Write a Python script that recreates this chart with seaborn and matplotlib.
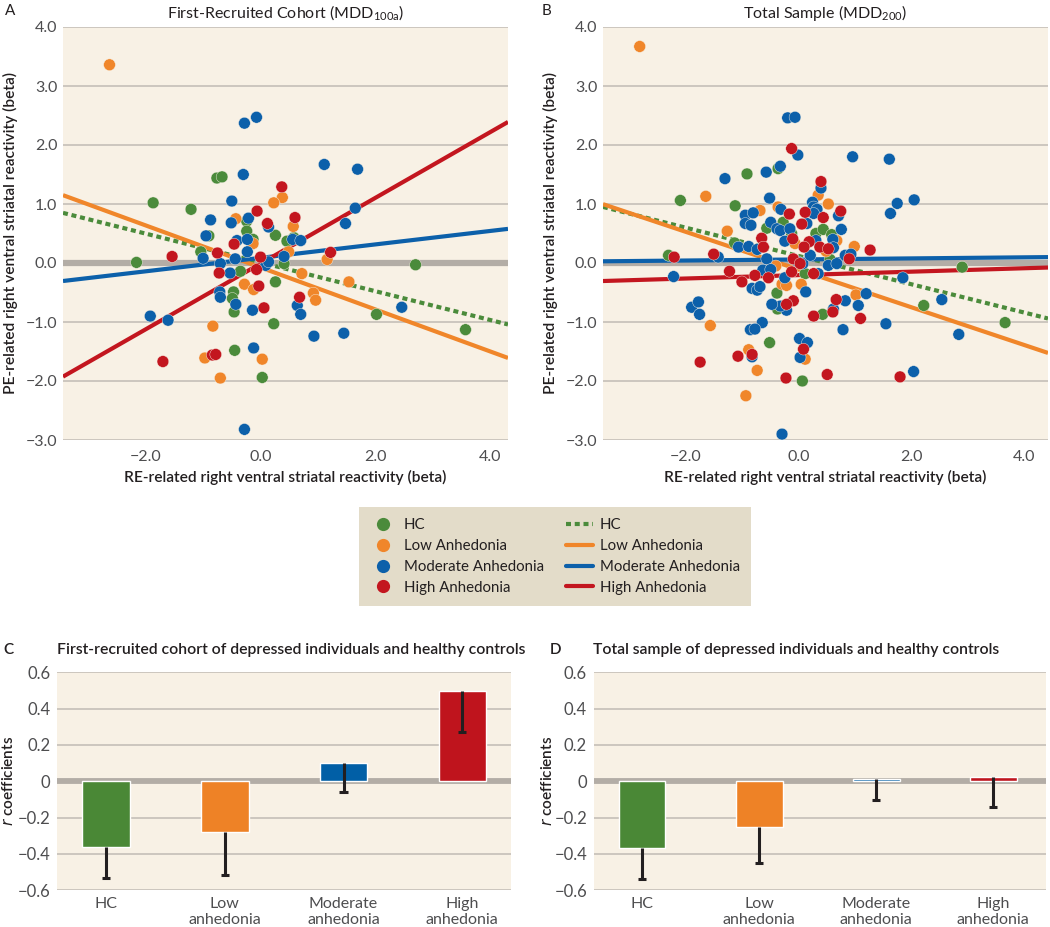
import numpy as np
import pandas as pd
import matplotlib
matplotlib.use("Agg")
import matplotlib.pyplot as plt
import seaborn as sns
from matplotlib.lines import Line2D

# ---------------- data ----------------
groups = ["HC", "Low Anhedonia", "Moderate Anhedonia", "High Anhedonia"]
colors = ["#4b8b3b", "#f0862a", "#0c60aa", "#c3161f"]
bar_colors = ["#4a8836", "#ee8226", "#015fa6", "#bf141d"]

# Panel A (first-recruited cohort) points: (RE beta, PE beta)
a_hc = [(-2.16, 0.01), (-1.87, 1.02), (-1.21, 0.91), (-0.76, 1.44), (-0.67, 1.46), (-0.24, 0.71),
        (-0.24, 0.54), (0.26, 0.47), (-0.90, 0.46), (-0.13, 0.40), (0.46, 0.37), (0.58, 0.43),
        (-1.04, 0.19), (0.41, -0.01), (0.26, -0.32), (-0.35, -0.14), (-0.47, -0.49), (-0.49, -0.60),
        (-0.46, -0.83), (0.23, -1.03), (2.02, -0.87), (2.70, -0.03), (3.57, -1.13), (-0.45, -1.48),
        (0.03, -1.94)]
a_low = [(-2.63, 3.36), (0.38, 1.11), (0.23, 1.02), (-0.43, 0.75), (0.57, 0.62), (-0.13, 0.33),
         (0.49, 0.19), (-0.28, -0.36), (-0.12, -0.45), (0.72, -0.18), (1.16, 0.06), (0.92, -0.51),
         (0.96, -0.63), (1.54, -0.32), (-0.83, -1.07), (-0.97, -1.61), (0.03, -1.63), (-0.70, -1.95)]
a_mod = [(-0.28, 2.37), (-0.07, 2.47), (-0.30, 1.50), (1.11, 1.67), (1.69, 1.59), (-0.50, 1.05),
         (-0.87, 0.73), (-0.51, 0.68), (-0.21, 0.76), (0.14, 0.61), (1.48, 0.67), (1.65, 0.93),
         (-0.95, 0.46), (-0.41, 0.38), (-0.23, 0.40), (0.56, 0.40), (0.70, 0.38), (-1.92, -0.90),
         (-1.61, -0.97), (-1.00, 0.08), (-0.70, -0.01), (-0.53, -0.17), (-0.44, 0.07), (-0.23, 0.19),
         (0.09, -0.04), (0.14, 0.02), (0.41, 0.11), (-0.71, -0.49), (-0.70, -0.58), (-0.43, -0.70),
         (-0.14, -0.80), (0.64, -0.72), (0.70, -0.87), (0.93, -1.24), (1.45, -1.19), (2.46, -0.75),
         (-0.12, -1.44), (-0.28, -2.82)]
a_high = [(0.37, 1.29), (-0.06, 0.88), (0.12, 0.67), (0.60, 0.77), (-0.46, 0.32), (-1.54, 0.11),
          (-0.75, 0.17), (-0.72, -0.17), (0.00, 0.10), (-0.07, -0.11), (-0.03, -0.39), (0.06, -0.76),
          (1.22, 0.18), (0.68, -0.58), (-1.70, -1.67), (-0.84, -1.56), (-0.78, -1.55)]

# Panel B (total sample) points
b_hc = [(-0.91, 1.51), (-0.36, 1.60), (-2.09, 1.06), (-1.12, 0.97), (-0.56, 0.59), (-0.27, 0.69),
        (0.31, 0.50), (0.44, 0.57), (0.59, 0.48), (-1.13, 0.34), (-0.12, 0.50), (-2.30, 0.13),
        (0.12, -0.18), (0.56, 0.06), (2.90, -0.07), (2.22, -0.72), (3.66, -1.01), (-0.38, -0.51),
        (0.43, -0.87), (-0.37, -0.78), (-0.51, -1.35), (0.07, -2.00)]
b_low = [(-2.81, 3.67), (-1.64, 1.13), (0.35, 1.15), (0.53, 1.00), (-0.68, 0.89), (-0.36, 0.95),
         (-1.26, 0.54), (-0.06, 0.33), (0.68, 0.38), (0.99, 0.28), (0.49, 0.20), (-0.40, -0.05),
         (-0.29, -0.36), (-0.21, -0.38), (0.05, -0.36), (1.02, -0.54), (-1.56, -1.06), (-0.88, -1.47),
         (-0.73, -1.82), (-0.93, -2.25), (0.12, -1.63)]
b_mod = [(-0.19, 2.46), (-0.06, 2.47), (-0.01, 1.83), (0.96, 1.80), (1.61, 1.76), (-1.30, 1.43),
         (-0.57, 1.54), (-0.32, 1.64), (-0.51, 1.10), (0.40, 1.27), (0.25, 1.03), (2.05, 1.07),
         (1.75, 1.01), (1.63, 0.84), (-0.94, 0.81), (-0.80, 0.85), (-0.94, 0.67), (-0.84, 0.64),
         (-0.31, 0.91), (0.27, 0.95), (0.33, 0.91), (0.27, 0.84), (0.71, 0.80), (0.76, 0.57),
         (-0.49, 0.69), (-0.38, 0.58), (-0.32, 0.55), (-0.15, 0.58), (0.15, 0.67), (-0.24, 0.37),
         (0.31, 0.38), (0.61, 0.40), (0.62, 0.26), (-1.06, 0.27), (-0.88, 0.28), (-2.21, -0.23),
         (-1.42, 0.10), (-0.73, 0.23), (-0.56, 0.07), (-0.63, -0.12), (-0.49, -0.11), (-0.82, -0.43),
         (-0.73, -0.46), (-0.68, -0.40), (-0.24, -0.25), (-0.01, 0.02), (0.08, -0.01), (0.35, -0.18),
         (0.13, -0.49), (0.21, 0.13), (0.53, -0.04), (0.68, -0.01), (0.83, 0.13), (0.93, 0.15),
         (1.85, -0.25), (2.54, -0.62), (2.84, -1.21), (2.04, -1.84), (1.55, -1.03), (1.06, -0.72),
         (1.20, -0.52), (0.83, -0.64), (0.62, -0.78), (0.79, -1.13), (-0.21, -0.80), (-0.32, -0.73),
         (-0.47, -0.70), (-0.64, -1.01), (-0.85, -1.13), (-0.77, -1.12), (-1.89, -0.75), (-1.77, -0.66),
         (-1.75, -0.87), (-0.82, -1.59), (0.02, -1.28), (0.16, -1.35), (0.03, -1.60), (-0.29, -2.90)]
b_high = [(-0.12, 1.94), (0.40, 1.38), (-0.16, 0.83), (0.12, 0.86), (0.44, 0.77), (0.75, 0.88),
          (0.06, 0.66), (-0.65, 0.42), (-0.10, 0.41), (0.19, 0.36), (1.27, 0.22), (0.10, 0.27),
          (0.38, 0.27), (-0.62, 0.27), (-2.20, 0.10), (-1.50, 0.15), (-1.22, -0.14), (-1.00, -0.32),
          (-0.77, -0.21), (-0.53, -0.25), (-0.09, 0.07), (0.03, -0.01), (-0.12, -0.15), (0.27, -0.18),
          (0.53, 0.24), (0.90, 0.07), (1.80, -1.93), (1.10, -0.94), (0.67, -0.62), (0.61, -0.83),
          (0.27, -0.90), (0.51, -1.89), (-0.09, -0.64), (-0.21, -0.70), (-1.74, -1.68), (-1.07, -1.58),
          (-0.82, -1.55), (0.09, -1.46), (-0.22, -1.95)]

# Fitted regression lines (slope, intercept) per group
a_slopes = [-0.244, -0.356, 0.114, 0.557]
a_intercepts = [0.01, -0.075, 0.087, -0.01]
b_slopes = [-0.240, -0.320, 0.009, 0.029]
b_intercepts = [0.12, -0.11, 0.06, -0.205]

# Bar panels: r coefficients and lower CI extent
bar_labels = ["HC", "Low\nanhedonia", "Moderate\nanhedonia", "High\nanhedonia"]
c_values = [-0.36, -0.28, 0.103, 0.495]
c_lower_err = [0.175, 0.237, 0.162, 0.225]
d_values = [-0.367, -0.25, 0.01, 0.024]
d_lower_err = [0.173, 0.20, 0.115, 0.164]

scatter_yticks = [-3, -2, -1, 0, 1, 2, 3, 4]
scatter_xticks = [-2, 0, 2, 4]
bar_yticks = [-0.6, -0.4, -0.2, 0, 0.2, 0.4, 0.6]

# ---------------- style ----------------
sns.set_style("white")
plt.rcParams["font.family"] = ["Lato", "DejaVu Sans"]
BG = "#f8f1e5"
GRID = "#c9c3bb"
ZERO = "#b3ada6"
TICKC = "#4d4d4f"
TEXTC = "#231f20"

fig = plt.figure(figsize=(10.5, 9.27), dpi=100)


def make_df(sets):
    rows = []
    for g, pts in zip(groups, sets):
        for x, y in pts:
            rows.append({"re": x, "pe": y, "group": g})
    return pd.DataFrame(rows)


def scatter_panel(rect, sets, slopes, intercepts, xlim, ylab_x):
    ax = fig.add_axes(rect)
    ax.set_facecolor(BG)
    df = make_df(sets)
    ax.axhline(0, color=ZERO, lw=4.5, zorder=1)
    for i, g in enumerate(groups):
        ls = (0, (1.2, 0.9)) if g == "HC" else "-"
        ax.axline((0, intercepts[i]), slope=slopes[i], color=colors[i], lw=3.0,
                  ls=ls, zorder=2, solid_capstyle="butt")
    sns.scatterplot(data=df, x="re", y="pe", hue="group", hue_order=groups,
                    palette=colors, s=72, edgecolor=BG, linewidth=0.3,
                    legend=False, ax=ax, zorder=3)
    ax.set_xlim(*xlim)
    ax.set_ylim(-3, 4)
    ax.set_yticks(scatter_yticks)
    ax.set_yticklabels([f"{v:.1f}".replace("-", "\u2212") for v in scatter_yticks])
    ax.set_xticks(scatter_xticks)
    ax.set_xticklabels([f"{v:.1f}".replace("-", "\u2212") for v in scatter_xticks])
    ax.grid(axis="y", color=GRID, lw=1.3, zorder=0)
    ax.set_axisbelow(True)
    for s in ax.spines.values():
        s.set_visible(False)
    ax.tick_params(length=0, pad=4, labelsize=11.5, labelcolor=TICKC)
    ax.tick_params(axis="x", pad=7)
    ax.set_xlabel("RE-related right ventral striatal reactivity (beta)", fontsize=11.2,
                  color=TEXTC, fontweight="semibold")
    ax.set_ylabel("PE-related right ventral striatal reactivity (beta)", fontsize=11.2,
                  color=TEXTC, fontweight="semibold")
    ax.xaxis.set_label_coords(0.5, -0.073)
    ax.yaxis.set_label_coords(ylab_x, 0.5)
    return ax


def bar_panel(rect, values, lower, xlim, ylab_x):
    ax = fig.add_axes(rect)
    ax.set_facecolor(BG)
    ax.axhline(0, color=ZERO, lw=4.2, zorder=1)
    sns.barplot(x=bar_labels, y=values, hue=bar_labels, palette=bar_colors,
                width=0.4, legend=False, ax=ax, zorder=2, saturation=1)
    xs = np.arange(len(values))
    vals = np.array(values)
    lows = vals - np.array(lower)
    ax.vlines(xs, lows, vals, color=TEXTC, lw=2.2, zorder=4)
    ax.hlines(lows, xs - 0.034, xs + 0.034, color=TEXTC, lw=2.2, zorder=4)
    ax.set_xlim(*xlim)
    ax.set_ylim(-0.6, 0.6)
    ax.set_yticks(bar_yticks)
    ax.set_yticklabels(["0" if v == 0 else f"{v:.1f}".replace("-", "\u2212") for v in bar_yticks])
    ax.grid(axis="y", color=GRID, lw=1.3, zorder=0)
    ax.set_axisbelow(True)
    for s in ax.spines.values():
        s.set_visible(False)
    ax.tick_params(length=0, pad=5, labelsize=12, labelcolor=TICKC)
    ax.tick_params(axis="x", pad=5, labelsize=11.5)
    for t in ax.get_xticklabels():
        t.set_linespacing(1.12)
    ax.set_ylabel(r"$\mathit{r}$ coefficients", fontsize=11, color=TEXTC, fontweight="semibold")
    ax.yaxis.set_label_coords(ylab_x, 0.5)
    return ax


axA = scatter_panel([63 / 1050, 1 - 440 / 927, 445 / 1050, 413 / 927],
                    [a_hc, a_low, a_mod, a_high], a_slopes, a_intercepts, (-3.44, 4.31), -0.101)
axB = scatter_panel([603 / 1050, 1 - 440 / 927, 445 / 1050, 413 / 927],
                    [b_hc, b_low, b_mod, b_high], b_slopes, b_intercepts, (-3.46, 4.42), -0.101)

axC = bar_panel([57.3 / 1050, 1 - 890.3 / 927, 453.7 / 1050, 218 / 927],
                c_values, c_lower_err, (-0.41, 3.41), -0.092)
axD = bar_panel([594 / 1050, 1 - 890.3 / 927, 452 / 1050, 218 / 927],
                d_values, d_lower_err, (-0.41, 3.45), -0.087)

# titles and panel letters
def ftext(px, py, s, **kw):
    fig.text(px / 1050, 1 - py / 927, s, va="center", color=TEXTC, **kw)

ftext(5, 11, "A", fontsize=11)
ftext(285.5, 13, r"First-Recruited Cohort (MDD$_{\mathregular{100a}}$)", fontsize=11.5, ha="center")
ftext(542, 11, "B", fontsize=11)
ftext(825, 13, r"Total Sample (MDD$_{\mathregular{200}}$)", fontsize=11.5, ha="center")
ftext(3, 650, "C", fontsize=11, fontweight="semibold")
ftext(57, 650, "First-recruited cohort of depressed individuals and healthy controls",
      fontsize=11.3, fontweight="semibold")
ftext(550, 650, "D", fontsize=11, fontweight="semibold")
ftext(593, 650, "Total sample of depressed individuals and healthy controls",
      fontsize=11.3, fontweight="semibold")

# legend
handles = []
for g, c in zip(groups, colors):
    handles.append(Line2D([], [], ls="none", marker="o", markersize=9.5, color=c,
                          markeredgewidth=0, label=g))
for g, c in zip(groups, colors):
    ls = (0, (1.2, 0.9)) if g == "HC" else "-"
    handles.append(Line2D([], [], ls=ls, lw=3, color=c, label=g))
leg = fig.legend(handles=handles, ncol=2, loc="center",
                 bbox_to_anchor=(555 / 1050, 1 - 556.5 / 927),
                 frameon=True, fancybox=False, facecolor="#e3dcc9", edgecolor="none",
                 fontsize=10.8, handlelength=1.8, handletextpad=0.45, labelspacing=0.45,
                 columnspacing=1.5, borderpad=0.75)
leg.get_frame().set_alpha(1)
for t in leg.get_texts():
    t.set_color(TEXTC)

fig.savefig("out.png", dpi=100)
